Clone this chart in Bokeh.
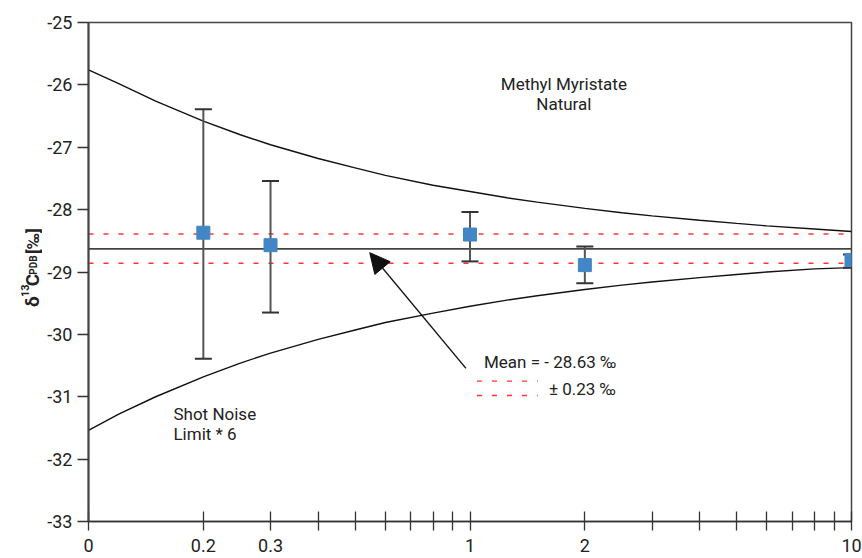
import math
from bokeh.plotting import figure
from bokeh.layouts import row
from bokeh.models import Range1d, FixedTicker, Label, Arrow, NormalHead
from bokeh.core.properties import value
from bokeh.embed import file_html
from bokeh.resources import INLINE

FONT = "Roboto"

# ---- data ----
amount = [0.2, 0.3, 1, 2, 10]
d13c = [-28.37, -28.57, -28.40, -28.89, -28.81]
err_hi = [-26.39, -27.54, -28.04, -28.59, -28.72]
err_lo = [-30.39, -29.65, -28.83, -29.18, -28.93]

mean_val = -28.63
band_hi = -28.39
band_lo = -28.86

curve_x = [0.1, 0.12, 0.15, 0.2, 0.25, 0.3, 0.4, 0.5, 0.6, 0.8, 1, 1.25, 1.5, 2, 2.5, 3, 4, 5, 6, 8, 10]
curve_upper = [-25.76, -25.98, -26.26, -26.58, -26.80, -26.96, -27.18, -27.33, -27.45, -27.61, -27.71,
               -27.81, -27.88, -27.98, -28.05, -28.10, -28.17, -28.22, -28.26, -28.31, -28.35]
curve_lower = [-31.54, -31.28, -31.00, -30.68, -30.46, -30.30, -30.08, -29.93, -29.81, -29.66, -29.55,
               -29.45, -29.38, -29.28, -29.21, -29.16, -29.09, -29.04, -29.00, -28.95, -28.93]

x_major = [0.1, 0.2, 0.3, 1, 2, 10]
x_minor = [0.4, 0.5, 0.6, 0.7, 0.8, 0.9, 3, 4, 5, 6, 7, 8, 9]
x_labels = ["0", "0.2", "0.3", "1", "2", "10"]
y_ticks = [-33, -32, -31, -30, -29, -28, -27, -26, -25]
y_labels = ["-33", "-32", "-31", "-30", "-29", "-28", "-27", "-26", "-25"]

LABEL_W = 42
H = 558
p = figure(width=862 - LABEL_W, height=H, x_axis_type="log",
           x_range=Range1d(0.1, 10), y_range=Range1d(-33, -25),
           output_backend="svg", toolbar_location=None,
           min_border_left=88 - LABEL_W, min_border_right=11, min_border_top=22, min_border_bottom=37)
p.grid.visible = False
p.outline_line_color = "#444444"
p.outline_line_width = 1.5
p.background_fill_color = "white"
p.border_fill_color = "white"

# x axis
xa = p.xaxis[0]
xa.ticker = FixedTicker(ticks=x_major, minor_ticks=x_minor)
xa.major_label_overrides = {t: l for t, l in zip(x_major, x_labels)}
xa.major_tick_in = 10
xa.major_tick_out = 9
xa.minor_tick_in = 10
xa.minor_tick_out = 9
xa.major_label_standoff = 8
xa.axis_line_color = "#333333"
xa.axis_line_width = 1.5
xa.major_tick_line_color = "#333333"
xa.minor_tick_line_color = "#333333"
xa.major_tick_line_width = 1.3
xa.minor_tick_line_width = 1.3

ya = p.yaxis[0]
ya.ticker = FixedTicker(ticks=y_ticks)
ya.major_label_overrides = {t: l for t, l in zip(y_ticks, y_labels)}
ya.major_tick_in = 0
ya.major_tick_out = 11
ya.minor_tick_line_color = None
ya.major_label_standoff = 5
ya.axis_line_color = "#444444"
ya.axis_line_width = 2
ya.major_tick_line_color = "#333333"
ya.major_tick_line_width = 1.3

for ax in (xa, ya):
    ax.major_label_text_font = FONT
    ax.major_label_text_font_size = "18px"
    ax.major_label_text_color = "#222222"

# shot noise curves
p.line(curve_x, curve_upper, line_color="#111111", line_width=1.4)
p.line(curve_x, curve_lower, line_color="#111111", line_width=1.4)

# mean and band
p.line([0.1, 10], [mean_val, mean_val], line_color="#444444", line_width=1.6)
p.line([0.1, 10], [band_hi, band_hi], line_color="#ff3333", line_width=1.4, line_dash="5 10")
p.line([0.1, 10], [band_lo, band_lo], line_color="#ff3333", line_width=1.4, line_dash="5 10")

# error bars
p.segment(x0=amount, y0=err_lo, x1=amount, y1=err_hi, line_color="#555555", line_width=2)
p.scatter(amount, err_hi, marker="dash", size=17, line_color="#333333", line_width=2)
p.scatter(amount, err_lo, marker="dash", size=17, line_color="#333333", line_width=2)

# data points
p.scatter(amount, d13c, marker="square", size=13, fill_color="#4286c3", line_color="#4286c3")

# annotations
def lab(x, y, t, align="left", size="17px"):
    p.add_layout(Label(x=x, y=y, text=t, text_font=FONT, text_font_size=size,
                       text_align=align, text_baseline="middle", text_color="#222222"))

lab(1.762, -25.99, "Methyl Myristate", align="center")
lab(1.762, -26.31, "Natural", align="center")
lab(0.167, -31.27, "Shot Noise")
lab(0.167, -31.60, "Limit * 6")
lab(1.088, -30.45, "Mean = - 28.63 \u2030")
lab(1.61, -30.88, "\u00b1 0.23 \u2030")

p.line([1.043, 1.506], [-30.75, -30.75], line_color="#ff3333", line_width=1.4, line_dash="5 10")
p.line([1.043, 1.506], [-30.98, -30.98], line_color="#ff3333", line_width=1.4, line_dash="5 10")

p.add_layout(Arrow(x_start=0.976, y_start=-30.545, x_end=0.546, y_end=-28.69,
                   line_color="#111111", line_width=1.4,
                   end=NormalHead(size=20, fill_color="#111111", line_color="#111111")))

# ---- y axis title (rotated, with super/subscript) in a narrow side figure ----
q = figure(width=LABEL_W, height=H, x_range=Range1d(0, LABEL_W), y_range=Range1d(0, H),
           output_backend="svg", toolbar_location=None,
           min_border=0, min_border_left=0, min_border_right=0, min_border_top=0, min_border_bottom=0)
q.axis.visible = False
q.grid.visible = False
q.outline_line_color = None

t_text = ["\u03b4", "13", "C", "PDB", "[\u2030]"]
t_x = [32, 24, 32, 33, 32]
t_top = [318, 307, 295, 282, 259]   # distance from top of page where each piece starts
t_size = ["19px", "11px", "19px", "10px", "17px"]
for tx, ty, tt, ts in zip(t_x, t_top, t_text, t_size):
    q.text(x=[tx], y=[H - ty], text=[tt], angle=math.pi / 2, text_align="left",
           text_baseline="alphabetic", text_font=value(FONT), text_font_size=ts,
           text_font_style="bold", text_color="#222222")

layout = row(q, p, spacing=0)
open("out.html", "w").write(file_html(layout, INLINE))
